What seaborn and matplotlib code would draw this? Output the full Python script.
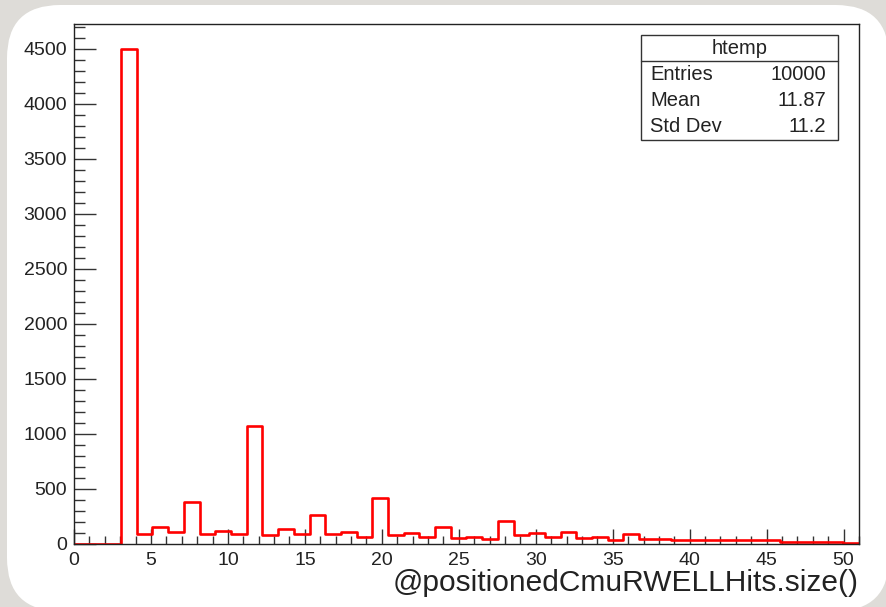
import numpy as np
import pandas as pd
import matplotlib
matplotlib.use("Agg")
import matplotlib.pyplot as plt
import seaborn as sns
from matplotlib.patches import FancyBboxPatch, Rectangle
from matplotlib.ticker import MultipleLocator

# ---- data (50 bins over 0..51) ----
x_min, x_max, n_bins = 0.0, 51.0, 50
counts = [0, 0, 0, 4500, 90, 150, 105, 385, 90, 120,
          90, 1075, 80, 135, 90, 265, 90, 110, 62, 415,
          82, 97, 67, 150, 52, 67, 45, 212, 82, 97,
          61, 109, 50, 67, 40, 95, 48, 45, 40, 38,
          36, 36, 36, 36, 36, 22, 22, 20, 20, 12]
stats_title = "htemp"
stats_labels = ["Entries", "Mean", "Std Dev"]
stats_values = ["10000", "11.87", "11.2"]
x_label = "@positionedCmuRWELLHits.size()"

edges = np.linspace(x_min, x_max, n_bins + 1)
centers = 0.5 * (edges[:-1] + edges[1:])
df = pd.DataFrame({"x": centers, "w": np.asarray(counts, dtype=float)})

sns.set_theme(style="white")
plt.rcParams['font.family'] = ['Liberation Sans', 'DejaVu Sans']

W, H = 887, 607
fig = plt.figure(figsize=(W / 100, H / 100), dpi=100)
fig.patch.set_facecolor("#dedcd8")

# rounded white panel (pixel box: x 7..889, y 5..611 from top)
px0, px1, py0, py1 = 7, 889, 5, 611
panel = FancyBboxPatch((px0 / W, 1 - py1 / H), (px1 - px0) / W, (py1 - py0) / H,
                       boxstyle="round,pad=0,rounding_size=0.06",
                       transform=fig.transFigure, facecolor="white",
                       edgecolor="none", mutation_aspect=W / H, zorder=-5)
fig.add_artist(panel)

L, R, T, B = 74, 859, 24, 544
ax = fig.add_axes([L / W, 1 - B / H, (R - L) / W, (B - T) / H])
ax.set_zorder(1)
ax.set_facecolor("white")

sns.histplot(data=df, x="x", weights="w", bins=[float(e) for e in edges],
             element="step", fill=False, color="#ff0000", linewidth=1.9,
             ax=ax)

ax.set_xlim(x_min, x_max)
ax.set_ylim(0, 4725)
ax.set_ylabel("")
ax.set_xlabel("")
for s in ax.spines.values():
    s.set_color("#222222")
    s.set_linewidth(1.0)

ax.xaxis.set_major_locator(MultipleLocator(5))
ax.xaxis.set_minor_locator(MultipleLocator(1))
ax.yaxis.set_major_locator(MultipleLocator(500))
ax.yaxis.set_minor_locator(MultipleLocator(100))
ax.tick_params(axis="x", which="major", direction="in", length=11, width=1,
               color="#333333", labelsize=14, pad=6, bottom=True, top=False)
ax.tick_params(axis="x", which="minor", direction="in", length=6, width=1,
               color="#333333", bottom=True, top=False)
ax.tick_params(axis="y", which="major", direction="in", length=16, width=1,
               color="#333333", labelsize=14, pad=5, left=True, right=False)
ax.tick_params(axis="y", which="minor", direction="in", length=8, width=1,
               color="#333333", left=True, right=False)
for lab in ax.get_xticklabels() + ax.get_yticklabels():
    lab.set_color("#222222")

fig.text(R / W, 1 - 583 / H, x_label, ha="right", va="center",
         fontsize=21.5, color="#222222", zorder=3)

# stats box
bx0, bx1, by0, by1 = 641, 838, 35, 140
box = Rectangle((bx0 / W, 1 - by1 / H), (bx1 - bx0) / W, (by1 - by0) / H,
                transform=fig.transFigure, facecolor="white",
                edgecolor="#333333", linewidth=1.0, zorder=5)
fig.add_artist(box)
fig.add_artist(plt.Line2D([bx0 / W, bx1 / W], [1 - 61 / H, 1 - 61 / H],
                          transform=fig.transFigure, color="#333333",
                          linewidth=1.0, zorder=6))
fig.text((bx0 + bx1) / 2 / W, 1 - 48 / H, stats_title, ha="center",
         va="center", fontsize=14.5, color="#222222", zorder=7)
row_y = [75, 101, 127]
for yy, lab, val in zip(row_y, stats_labels, stats_values):
    fig.text(650 / W, 1 - yy / H, lab, ha="left", va="center",
             fontsize=14.5, color="#222222", zorder=7)
    fig.text(826 / W, 1 - yy / H, val, ha="right", va="center",
             fontsize=14.5, color="#222222", zorder=7)

fig.savefig("out.png", dpi=100, facecolor=fig.get_facecolor())
